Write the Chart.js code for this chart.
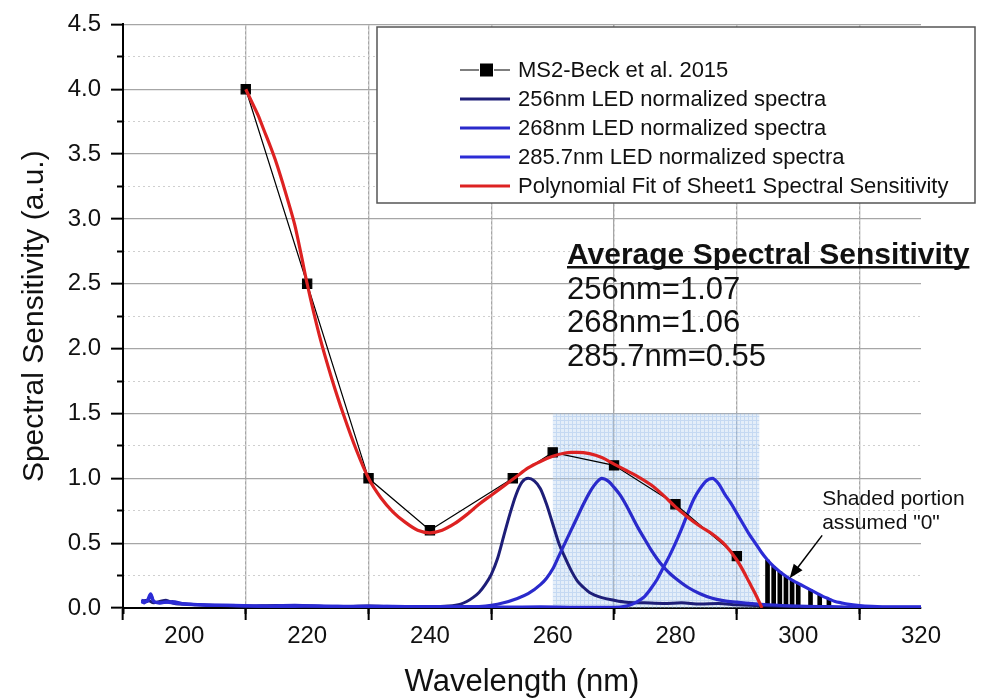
<!DOCTYPE html>
<html><head><meta charset="utf-8">
<script src="https://cdn.jsdelivr.net/npm/chart.js@4.4.1/dist/chart.umd.min.js"></script>
<style>html,body{margin:0;padding:0;background:#fff}canvas{display:block}</style>
</head><body>
<canvas id="c" width="991" height="698"></canvas>
<script>
const FONT = "'Liberation Sans', Arial, Helvetica, sans-serif";

// ---------- data ----------
const ms2Label = 'MS2-Beck et al. 2015';
const ms2X = [210, 220, 230, 240, 253.5, 260, 270, 280, 290];
const ms2Y = [4.0, 2.5, 1.0, 0.6, 1.0, 1.2, 1.1, 0.8, 0.4];

const led256Label = '256nm LED normalized spectra';
const led256X = [193, 194, 195, 196, 197, 198, 199, 200, 202, 205, 210, 215, 220, 225, 230, 235, 240, 243, 245, 246, 247, 248, 249, 250, 251, 252, 253, 254, 255, 256, 257, 258, 259, 260, 261, 262, 263, 264, 265, 266, 268, 270, 272, 275, 278, 281, 284, 287, 290, 293, 296, 300];
const led256Y = [0.05, 0.06, 0.04, 0.05, 0.06, 0.04, 0.03, 0.03, 0.025, 0.02, 0.015, 0.02, 0.015, 0.01, 0.015, 0.01, 0.01, 0.015, 0.03, 0.05, 0.08, 0.12, 0.18, 0.26, 0.38, 0.55, 0.72, 0.87, 0.97, 1.0, 0.98, 0.92, 0.8, 0.65, 0.5, 0.39, 0.29, 0.21, 0.16, 0.12, 0.08, 0.06, 0.045, 0.04, 0.035, 0.04, 0.03, 0.035, 0.025, 0.02, 0.015, 0.01];

const led268Label = '268nm LED normalized spectra';
const led268X = [193, 194, 194.5, 195, 196, 198, 200, 203, 207, 212, 218, 224, 230, 236, 242, 246, 248, 250, 252, 254, 256, 258, 259, 260, 261, 262, 263, 264, 265, 266, 267, 268, 269, 270, 271, 272, 273, 274, 275, 276, 277, 278, 279, 280, 282, 284, 286, 288, 290, 292, 295, 300, 305, 310, 320];
const led268Y = [0.06, 0.05, 0.1, 0.05, 0.04, 0.05, 0.03, 0.025, 0.02, 0.015, 0.02, 0.012, 0.015, 0.01, 0.01, 0.008, 0.01, 0.02, 0.04, 0.07, 0.11, 0.18, 0.23, 0.3, 0.4, 0.5, 0.6, 0.7, 0.8, 0.89, 0.96, 1.0, 0.98, 0.93, 0.87, 0.79, 0.7, 0.61, 0.53, 0.45, 0.38, 0.32, 0.27, 0.23, 0.16, 0.11, 0.075, 0.055, 0.045, 0.035, 0.025, 0.015, 0.01, 0.005, 0.005];

const led286Label = '285.7nm LED normalized spectra';
const led286X = [193, 193.5, 194, 194.5, 195, 196, 197, 199, 201, 204, 208, 212, 217, 222, 228, 234, 240, 246, 252, 258, 264, 268, 270, 272, 273, 274, 275, 276, 277, 278, 279, 280, 281, 282, 283, 284, 285, 286, 287, 288, 289, 290, 291, 292, 293, 294, 295, 296, 297, 298, 299, 300, 301, 302, 303, 304, 305, 306, 307, 308, 310, 312, 315, 320];
const led286Y = [0.05, 0.04, 0.06, 0.11, 0.05, 0.04, 0.045, 0.035, 0.03, 0.02, 0.02, 0.015, 0.012, 0.015, 0.01, 0.012, 0.008, 0.01, 0.006, 0.008, 0.005, 0.005, 0.005, 0.015, 0.03, 0.055, 0.09, 0.15, 0.22, 0.31, 0.4, 0.5, 0.61, 0.73, 0.84, 0.92, 0.98, 1.0, 0.96, 0.88, 0.81, 0.73, 0.65, 0.57, 0.5, 0.43, 0.37, 0.32, 0.28, 0.245, 0.215, 0.19, 0.165, 0.14, 0.115, 0.09, 0.07, 0.05, 0.04, 0.03, 0.018, 0.012, 0.008, 0.008];

const fitLabel = 'Polynomial Fit of Sheet1 Spectral Sensitivity';
const fitX = [210, 211, 212, 213, 214, 215, 216, 217, 218, 219, 220, 222, 224, 226, 228, 230, 232, 234, 236, 238, 240, 242, 244, 246, 248, 250, 252, 254, 256, 258, 260, 262, 263, 264, 266, 268, 270, 272, 274, 276, 278, 280, 282, 284, 286, 288, 290, 291, 292, 293, 294.1];
const fitY = [4.0, 3.9, 3.8, 3.68, 3.56, 3.43, 3.28, 3.12, 2.95, 2.73, 2.5, 2.1, 1.77, 1.48, 1.22, 1.0, 0.85, 0.74, 0.66, 0.6, 0.58, 0.6, 0.65, 0.72, 0.8, 0.87, 0.94, 1.01, 1.08, 1.13, 1.17, 1.195, 1.2, 1.2, 1.19, 1.16, 1.11, 1.06, 1.01, 0.95, 0.87, 0.78, 0.7, 0.63, 0.57, 0.49, 0.37, 0.29, 0.2, 0.11, 0];

// shaded (LED window) region
const shadeX = [260, 293.7];
const shadeY = [1.5, 1.5];

// "assumed 0" hatch bars
const hatchX = [295, 296, 297, 298, 299, 300, 302, 303.5, 305];
const hatchY = [0.37, 0.32, 0.28, 0.245, 0.215, 0.19, 0.14, 0.105, 0.07];

// axis ticks
const xMin = 190, xMax = 320;
const xTicksMajor = [200, 220, 240, 260, 280, 300, 320];
const xTicksMinor = [190, 210, 230, 250, 270, 290, 310];
const yMin = 0, yMax = 4.5;
const yTicksMajor = [0, 0.5, 1.0, 1.5, 2.0, 2.5, 3.0, 3.5, 4.0, 4.5];
const yTicksMinor = [0.25, 0.75, 1.25, 1.75, 2.25, 2.75, 3.25, 3.75, 4.25];

// annotation texts
const statsTitle = 'Average Spectral Sensitivity';
const statsLines = ['256nm=1.07', '268nm=1.06', '285.7nm=0.55'];
const shadeNote = ['Shaded portion', 'assumed "0"'];

// ---------- helpers ----------
const zip = (xs, ys) => xs.map((x, i) => ({x, y: ys[i]}));
const asTicks = arr => arr.map(v => ({value: v}));
const ctx0 = document.getElementById('c').getContext('2d');
function makePattern() {
  const c = document.createElement('canvas'); c.width = 4; c.height = 4;
  const g = c.getContext('2d');
  g.fillStyle = 'rgba(180,208,238,0.36)'; g.fillRect(0, 0, 4, 4);
  g.fillStyle = 'rgba(140,180,228,0.35)'; g.fillRect(0, 0, 4, 1); g.fillRect(0, 1, 1, 3);
  return ctx0.createPattern(c, 'repeat');
}
const C256 = '#1e1e78', C268 = '#2a2acb', C286 = '#2c2cd6', CFIT = '#dd2222';
const GRID_MAJOR = '#a6a6a6', GRID_MINOR = '#cfcfcf';

const overlay = {
  id: 'overlay',
  afterDraw(chart) {
    const {ctx, scales: {x, y}} = chart;
    ctx.save();
    // legend box
    const bx = 377, by = 27, bw = 598, bh = 176;
    ctx.fillStyle = '#fff';
    ctx.fillRect(bx, by, bw, bh);
    ctx.strokeStyle = '#555'; ctx.lineWidth = 1.5;
    ctx.strokeRect(bx, by, bw, bh);
    const items = chart.data.datasets.filter(d => d.inLegend);
    ctx.font = '22px ' + FONT;
    ctx.textBaseline = 'middle'; ctx.textAlign = 'left';
    items.forEach((d, i) => {
      const ry = 70 + i * 29;
      if (d.pointStyle === 'rect') {
        ctx.strokeStyle = '#000'; ctx.lineWidth = 1.2;
        ctx.beginPath(); ctx.moveTo(460, ry); ctx.lineTo(479, ry); ctx.moveTo(494, ry); ctx.lineTo(510, ry); ctx.stroke();
        ctx.fillStyle = '#000'; ctx.fillRect(480, ry - 6.5, 13, 13);
      } else {
        ctx.strokeStyle = d.borderColor; ctx.lineWidth = 3;
        ctx.beginPath(); ctx.moveTo(460, ry); ctx.lineTo(510, ry); ctx.stroke();
      }
      ctx.fillStyle = '#111';
      ctx.fillText(d.label, 518, ry + 1);
    });
    // stats block
    ctx.fillStyle = '#111';
    ctx.font = 'bold 30px ' + FONT;
    ctx.fillText(statsTitle, 567, 256);
    const tw = ctx.measureText(statsTitle).width;
    ctx.fillRect(567, 266, tw, 2.5);
    ctx.font = '31px ' + FONT;
    statsLines.forEach((t, i) => ctx.fillText(t, 567, 290 + i * 33.5));
    // shaded note + arrow
    ctx.font = '21px ' + FONT;
    const nx = x.getPixelForValue(303.9);
    ctx.fillText(shadeNote[0], nx, y.getPixelForValue(0.836));
    ctx.fillText(shadeNote[1], nx, y.getPixelForValue(0.655));
    const ax0 = x.getPixelForValue(303.9), ay0 = y.getPixelForValue(0.56);
    const ax1 = x.getPixelForValue(298.6), ay1 = y.getPixelForValue(0.23);
    const ang = Math.atan2(ay1 - ay0, ax1 - ax0);
    ctx.strokeStyle = '#000'; ctx.lineWidth = 1.5;
    ctx.beginPath(); ctx.moveTo(ax0, ay0);
    ctx.lineTo(ax1 - 10 * Math.cos(ang), ay1 - 10 * Math.sin(ang)); ctx.stroke();
    ctx.beginPath();
    ctx.moveTo(ax1, ay1);
    ctx.lineTo(ax1 - 14 * Math.cos(ang) + 5.5 * Math.sin(ang), ay1 - 14 * Math.sin(ang) - 5.5 * Math.cos(ang));
    ctx.lineTo(ax1 - 14 * Math.cos(ang) - 5.5 * Math.sin(ang), ay1 - 14 * Math.sin(ang) + 5.5 * Math.cos(ang));
    ctx.closePath(); ctx.fillStyle = '#000'; ctx.fill();
    ctx.restore();
  }
};

const lineDs = (label, xs, ys, color, width, order) => ({
  type: 'line', label, data: zip(xs, ys), borderColor: color, borderWidth: width,
  pointRadius: 0, fill: false, tension: 0, cubicInterpolationMode: 'monotone', order, inLegend: true
});

new Chart(ctx0, {
  type: 'line',
  data: {
    datasets: [
      {type: 'line', label: ms2Label, data: zip(ms2X, ms2Y), borderColor: '#000', borderWidth: 1.2,
       pointStyle: 'rect', pointRadius: 6.5, pointBackgroundColor: '#000', pointBorderColor: '#000',
       tension: 0, fill: false, order: 1, inLegend: true},
      lineDs(led256Label, led256X, led256Y, C256, 3, 4),
      lineDs(led268Label, led268X, led268Y, C268, 3.2, 3),
      lineDs(led286Label, led286X, led286Y, C286, 3.2, 2),
      lineDs(fitLabel, fitX, fitY, CFIT, 3.2, 0),
      {type: 'bar', label: 'hatch', data: zip(hatchX, hatchY), backgroundColor: '#000',
       barThickness: 4, order: 5, inLegend: false},
      {type: 'line', label: 'shade', data: zip(shadeX, shadeY), borderWidth: 0, pointRadius: 0,
       fill: 'origin', backgroundColor: makePattern(), order: 6, inLegend: false}
    ]
  },
  options: {
    responsive: false, animation: false,
    layout: {padding: {top: 20, right: 70, left: 0, bottom: 0}},
    plugins: {legend: {display: false}, tooltip: {enabled: false}},
    scales: {
      x: {
        type: 'linear', position: 'bottom', weight: 1, min: xMin, max: xMax, offset: false,
        afterBuildTicks: s => { s.ticks = asTicks(xTicksMajor); },
        ticks: {autoSkip: false, maxRotation: 0, padding: 2,
                font: {family: FONT, size: 24}, color: '#111', callback: v => String(v)},
        grid: {color: GRID_MAJOR, lineWidth: 1.3, tickColor: '#000', tickLength: 12, tickWidth: 2},
        border: {color: '#000', width: 2},
        title: {display: true, text: 'Wavelength (nm)', color: '#111',
                font: {family: FONT, size: 31, lineHeight: 1}, padding: {top: 0, bottom: 0}},
        afterFit: s => { s.height = 90; }
      },
      xm: {
        type: 'linear', position: 'bottom', weight: 0, min: xMin, max: xMax, offset: false,
        afterBuildTicks: s => { s.ticks = asTicks(xTicksMinor); },
        ticks: {display: false},
        grid: {color: c => (c.tick && c.tick.value === xMin) ? 'transparent' : GRID_MINOR,
               lineWidth: 1, tickColor: '#000', tickLength: 6, tickWidth: 2},
        border: {display: false, dash: [2, 3]},
        afterFit: s => { s.height = 0; }
      },
      y: {
        type: 'linear', position: 'left', weight: 1, min: yMin, max: yMax,
        afterBuildTicks: s => { s.ticks = asTicks(yTicksMajor); },
        ticks: {autoSkip: false, padding: 10,
                font: {family: FONT, size: 24}, color: '#111', callback: v => v.toFixed(1)},
        grid: {color: c => (c.tick && c.tick.value === yMin) ? 'transparent' : GRID_MAJOR, lineWidth: 1.3,
               tickColor: '#000', tickLength: 12, tickWidth: 2},
        border: {color: '#000', width: 2},
        title: {display: true, text: 'Spectral Sensitivity (a.u.)', color: '#111',
                font: {family: FONT, size: 30, lineHeight: 1}, padding: {top: 20, bottom: 0}},
        afterFit: s => { s.width = 123; }
      },
      ym: {
        type: 'linear', position: 'left', weight: 0, min: yMin, max: yMax,
        afterBuildTicks: s => { s.ticks = asTicks(yTicksMinor); },
        ticks: {display: false},
        grid: {color: GRID_MINOR, lineWidth: 1, tickColor: '#000', tickLength: 6, tickWidth: 2},
        border: {display: false, dash: [2, 3]},
        afterFit: s => { s.width = 0; }
      }
    }
  },
  plugins: [overlay]
});
</script>
</body></html>
